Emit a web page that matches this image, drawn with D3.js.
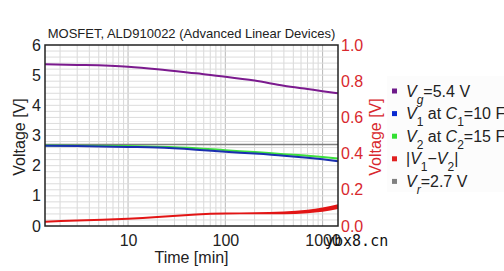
<!DOCTYPE html>
<html>
<head>
<meta charset="utf-8">
<script src="https://cdn.jsdelivr.net/npm/d3@7"></script>
<style>
  body { margin: 0; background: #fff; }
  svg { font-family: "Liberation Sans", Arial, sans-serif; }
</style>
</head>
<body>
<div id="chart-area"></div>
<script>
// data
const time = [1.4, 3, 10, 20, 50, 100, 200, 400, 700, 1000, 1440];
const vg = [5.36, 5.34, 5.28, 5.2, 5.06, 4.95, 4.82, 4.65, 4.54, 4.47, 4.4];
const v1 = [2.66, 2.65, 2.62, 2.6, 2.53, 2.46, 2.4, 2.33, 2.26, 2.21, 2.15];
const v2 = [2.67, 2.66, 2.65, 2.63, 2.58, 2.51, 2.45, 2.38, 2.33, 2.29, 2.24];
const diff = [0.024, 0.03, 0.04, 0.05, 0.064, 0.069, 0.071, 0.073, 0.08, 0.09, 0.107];
const diffSpread = [0, 0, 0, 0, 0, 0, 0, 0.002, 0.004, 0.006, 0.008];
const vr = 2.7;
const leftTicks = [0, 1, 2, 3, 4, 5, 6];
const rightTicks = [0, 0.2, 0.4, 0.6, 0.8, 1.0];
const timeTicks = [10, 100, 1000];

const MARGIN = { LEFT: 45, RIGHT: 166, TOP: 45, BOTTOM: 45 };
const WIDTH = 504 - MARGIN.LEFT - MARGIN.RIGHT;
const HEIGHT = 271 - MARGIN.TOP - MARGIN.BOTTOM;

const svg = d3.select("#chart-area").append("svg")
  .attr("width", 504).attr("height", 271);

const g = svg.append("g")
  .attr("transform", `translate(${MARGIN.LEFT}, ${MARGIN.TOP})`);

// scales
const x = d3.scaleLog().domain([1.4, 1440]).range([0, WIDTH]);
const y = d3.scaleLinear().domain([0, 6]).range([HEIGHT, 0]);
const y2 = d3.scaleLinear().domain([0, 1]).range([HEIGHT, 0]);

// grid
const minorX = [];
[1, 10, 100, 1000].forEach((dec) => {
  for (let k = 1; k <= 9; k++) {
    const v = dec * k;
    if (v > 1.4 && v < 1440) minorX.push(v);
  }
});
g.append("g").selectAll("line").data(minorX).join("line")
  .attr("x1", (d) => x(d)).attr("x2", (d) => x(d))
  .attr("y1", 0).attr("y2", HEIGHT)
  .attr("stroke", (d) => (timeTicks.includes(d) ? "#b8b8b8" : "#d8d8d8"))
  .attr("stroke-width", 1);
g.append("g").selectAll("line").data(d3.range(0.2, 6, 0.2)).join("line")
  .attr("x1", 0).attr("x2", WIDTH)
  .attr("y1", (d) => y(d)).attr("y2", (d) => y(d))
  .attr("stroke", "#dcdcdc").attr("stroke-width", 1);

// lines
const line = (arr) => d3.line()
  .x((d, i) => x(time[i]))
  .y((d) => y(d))
  .curve(d3.curveMonotoneX)(arr);

g.append("line")
  .attr("x1", 0).attr("x2", WIDTH)
  .attr("y1", y(vr)).attr("y2", y(vr))
  .attr("stroke", "#808080").attr("stroke-width", 1.5);

g.append("path").attr("d", line(vg))
  .attr("fill", "none").attr("stroke", "#7b1a8e").attr("stroke-width", 2);
g.append("path").attr("d", line(v2))
  .attr("fill", "none").attr("stroke", "#3ee03e").attr("stroke-width", 2);
g.append("path").attr("d", line(v1))
  .attr("fill", "none").attr("stroke", "#1a2fb0").attr("stroke-width", 2);

// |V1-V2| with noise band, right axis
const band = d3.area()
  .x((d) => x(d))
  .y0((d, i) => y2(diff[i] - diffSpread[i]) + 1)
  .y1((d, i) => y2(diff[i] + diffSpread[i]) - 1)
  .curve(d3.curveMonotoneX);
g.append("path").attr("d", band(time)).attr("fill", "#e21515");

// frame
g.append("rect")
  .attr("width", WIDTH).attr("height", HEIGHT)
  .attr("fill", "none").attr("stroke", "#222").attr("stroke-width", 1.5);

// axes
const yAxis = g.append("g")
  .call(d3.axisLeft(y).tickValues(leftTicks).tickSize(0).tickPadding(4).tickFormat(d3.format("d")));
const yAxis2 = g.append("g").attr("transform", `translate(${WIDTH}, 0)`)
  .call(d3.axisRight(y2).tickValues(rightTicks).tickSize(0).tickPadding(3).tickFormat(d3.format(".1f")));
const xAxis = g.append("g").attr("transform", `translate(0, ${HEIGHT})`)
  .call(d3.axisBottom(x).tickValues(timeTicks).tickSize(0).tickPadding(9).tickFormat(d3.format("d")));
[yAxis, yAxis2, xAxis].forEach((a) => {
  a.select(".domain").remove();
  a.selectAll("text").attr("font-size", "16px").attr("font-family", "Liberation Sans, Arial, sans-serif");
});
yAxis.selectAll("text").attr("fill", "#222");
xAxis.selectAll("text").attr("fill", "#222");
yAxis2.selectAll("text").attr("fill", "#d8282e");

// axis labels
g.append("text")
  .attr("transform", "rotate(-90)")
  .attr("x", -92).attr("y", -20)
  .attr("font-size", "16px").attr("text-anchor", "middle").attr("fill", "#222")
  .text("Voltage [V]");
g.append("text")
  .attr("transform", "rotate(-90)")
  .attr("x", -92).attr("y", WIDTH + 43)
  .attr("font-size", "16px").attr("text-anchor", "middle").attr("fill", "#d8282e")
  .text("Voltage [V]");
g.append("text")
  .attr("x", WIDTH / 2).attr("y", HEIGHT + 37)
  .attr("font-size", "16px").attr("text-anchor", "middle").attr("fill", "#222")
  .text("Time [min]");

// title
svg.append("text")
  .attr("x", MARGIN.LEFT + WIDTH / 2).attr("y", 38)
  .attr("font-size", "13px").attr("text-anchor", "middle").attr("fill", "#222")
  .text("MOSFET, ALD910022 (Advanced Linear Devices)");

// legend
const legendColors = ["#6e1a8a", "#0a2ad0", "#33e033", "#e02020", "#808080"];
const legendParts = [
  [["V", "i"], ["g", "si"], ["=5.4 V", ""]],
  [["V", "i"], ["1", "s"], [" at ", ""], ["C", "i"], ["1", "s"], ["=10 F", ""]],
  [["V", "i"], ["2", "s"], [" at ", ""], ["C", "i"], ["2", "s"], ["=15 F", ""]],
  [["|", ""], ["V", "i"], ["1", "s"], ["\u2212", ""], ["V", "i"], ["2", "s"], ["|", ""]],
  [["V", "i"], ["r", "si"], ["=2.7 V", ""]],
];
svg.append("rect")
  .attr("x", 387).attr("y", 76).attr("width", 117).attr("height", 116)
  .attr("fill", "#fcfcfc");
const leg = svg.append("g").attr("transform", "translate(392, 91)");
legendParts.forEach((parts, i) => {
  const row = leg.append("g").attr("transform", `translate(0, ${i * 22.6})`);
  row.append("rect").attr("x", 0).attr("y", -2.5).attr("width", 5).attr("height", 5)
    .attr("fill", legendColors[i]);
  const t = row.append("text").attr("x", 14).attr("y", 5.5)
    .attr("font-size", "16px").attr("fill", "#222");
  parts.forEach(([s, st]) => {
    const ts = t.append("tspan").text(s);
    if (st.includes("i")) ts.attr("font-style", "italic");
    if (st.includes("s")) ts.attr("baseline-shift", "sub").attr("font-size", "12px");
  });
});

// watermark
svg.append("text")
  .attr("x", 325).attr("y", 246)
  .attr("font-family", "DejaVu Sans Mono, monospace").attr("font-size", "15px")
  .attr("fill", "#111")
  .text("ybx8.cn");
</script>
</body>
</html>
